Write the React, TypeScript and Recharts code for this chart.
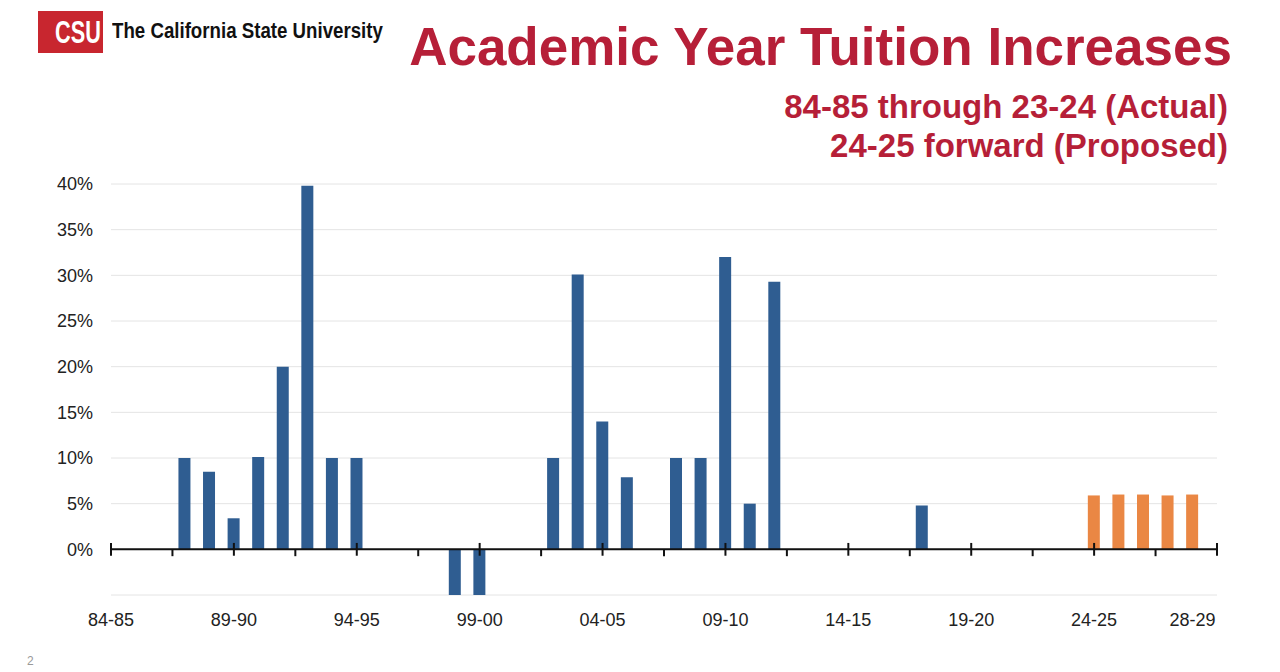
import { BarChart, Bar, XAxis, YAxis, CartesianGrid, ReferenceLine } from 'recharts';

// academic years, 84-85 through 28-29
const years = [
  '84-85', '85-86', '86-87', '87-88', '88-89', '89-90', '90-91', '91-92', '92-93', '93-94',
  '94-95', '95-96', '96-97', '97-98', '98-99', '99-00', '00-01', '01-02', '02-03', '03-04',
  '04-05', '05-06', '06-07', '07-08', '08-09', '09-10', '10-11', '11-12', '12-13', '13-14',
  '14-15', '15-16', '16-17', '17-18', '18-19', '19-20', '20-21', '21-22', '22-23', '23-24',
  '24-25', '25-26', '26-27', '27-28', '28-29',
];

// actual increases, 84-85 .. 23-24 (%)
const actual = [
  0, 0, 0, 10, 8.5, 3.4, 10.1, 20, 39.8, 10,
  10, 0, 0, 0, -5, -5, 0, 0, 10, 30.1,
  14, 7.9, 0, 10, 10, 32, 5, 29.3, 0, 0,
  0, 0, 0, 4.8, 0, 0, 0, 0, 0, 0,
];

// proposed increases, 24-25 forward (%)
const proposed = [5.9, 6, 6, 5.9, 6];

const labelTicks = [84, 89, 94, 99, 104, 109, 114, 119, 124, 128];
const majorTicks = [84, 89, 94, 99, 104, 109, 114, 119, 124, 129];
const minorTicks = [86.5, 91.5, 96.5, 101.5, 106.5, 111.5, 116.5, 121.5, 126.5];
const yTicks = [-5, 0, 5, 10, 15, 20, 25, 30, 35, 40];

const FIRST_YEAR = 84;

const data = years.map((label, i) => ({
  x: FIRST_YEAR + i,
  label,
  actual: i < actual.length ? actual[i] : 0,
  proposed: i >= actual.length ? proposed[i - actual.length] : 0,
}));

const RED = '#B61F38';
const FONT = '"Liberation Sans", Arial, sans-serif';

export default function App() {
  return (
    <div
      style={{
        position: 'absolute',
        left: 0,
        top: 0,
        width: 1280,
        height: 672,
        background: '#fff',
        fontFamily: FONT,
        overflow: 'hidden',
      }}
    >
      {/* logo */}
      <div
        style={{
          position: 'absolute',
          left: 38,
          top: 11,
          width: 65,
          height: 42,
          background: '#C8262F',
        }}
      >
        <span
          style={{
            position: 'absolute',
            left: 17,
            top: 4,
            fontSize: 31,
            fontWeight: 'bold',
            color: '#fff',
            transform: 'scaleX(0.7)',
            transformOrigin: 'left top',
            whiteSpace: 'nowrap',
          }}
        >
          CSU
        </span>
      </div>
      <span
        style={{
          position: 'absolute',
          left: 112,
          top: 18,
          fontSize: 22.5,
          fontWeight: 'bold',
          color: '#111',
          transform: 'scaleX(0.83)',
          transformOrigin: 'left top',
          whiteSpace: 'nowrap',
        }}
      >
        The California State University
      </span>

      {/* titles */}
      <div
        style={{
          position: 'absolute',
          right: 48,
          top: 16,
          fontSize: 53,
          fontWeight: 'bold',
          color: RED,
          whiteSpace: 'nowrap',
        }}
      >
        Academic Year Tuition Increases
      </div>
      <div
        style={{
          position: 'absolute',
          right: 52,
          top: 87,
          fontSize: 33,
          lineHeight: '39px',
          fontWeight: 'bold',
          color: RED,
          textAlign: 'right',
          whiteSpace: 'nowrap',
        }}
      >
        <div>84-85 through 23-24 (Actual)</div>
        <div>24-25 forward (Proposed)</div>
      </div>

      <div style={{ position: 'absolute', left: 0, top: 0 }}>
        <BarChart
          width={1280}
          height={672}
          data={data}
          stackOffset="sign"
          margin={{ top: 184, right: 63, bottom: 47, left: 51 }}
        >
          <CartesianGrid vertical={false} stroke="#e4e4e4" strokeWidth={1} />
          <XAxis
            dataKey="x"
            type="number"
            domain={[84, 129]}
            allowDataOverflow
            ticks={labelTicks}
            interval={0}
            tickFormatter={(v) => data[v - FIRST_YEAR]?.label ?? ''}
            axisLine={false}
            tickLine={false}
            tickSize={8}
            tickMargin={10}
            height={30}
            tick={{ fontSize: 18, fill: '#222', fontFamily: FONT }}
          />
          <YAxis
            type="number"
            domain={[-5, 40]}
            ticks={yTicks}
            interval={0}
            tickFormatter={(v) => (v < 0 ? '' : `${v}%`)}
            axisLine={false}
            tickLine={false}
            tickSize={6}
            tickMargin={12}
            width={60}
            tick={{ fontSize: 18, fill: '#222', fontFamily: FONT }}
          />
          <Bar dataKey="actual" stackId="a" fill="#2F5D91" barSize={12} isAnimationActive={false} />
          <Bar dataKey="proposed" stackId="a" fill="#EA8744" barSize={12} isAnimationActive={false} />
          <ReferenceLine y={0} stroke="#111" strokeWidth={2} />
          {majorTicks.map((t) => (
            <ReferenceLine
              key={`M${t}`}
              segment={[
                { x: t, y: 0.7 },
                { x: t, y: -0.7 },
              ]}
              stroke="#111"
              strokeWidth={2}
            />
          ))}
          {minorTicks.map((t) => (
            <ReferenceLine
              key={`m${t}`}
              segment={[
                { x: t, y: 0 },
                { x: t, y: -0.75 },
              ]}
              stroke="#111"
              strokeWidth={2}
            />
          ))}
        </BarChart>
      </div>

      <span style={{ position: 'absolute', left: 27, top: 654, fontSize: 12, color: '#999' }}>2</span>
    </div>
  );
}
